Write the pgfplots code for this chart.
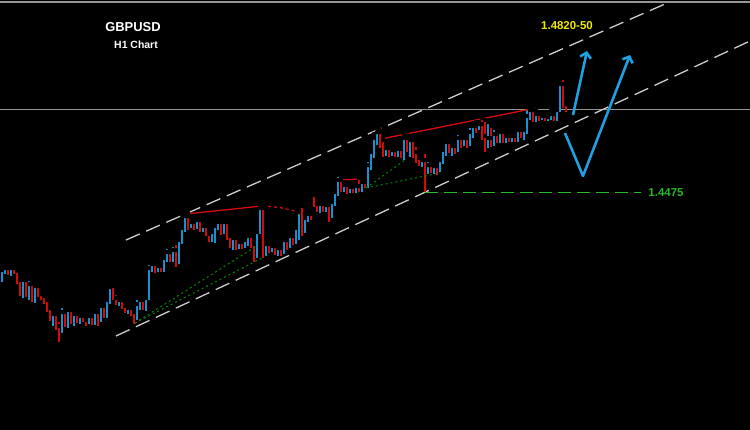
\documentclass[border=0pt]{standalone}
\usepackage{fontspec}
\setmainfont{Liberation Sans}
\usepackage{pgfplots}
\pgfplotsset{compat=1.18}
\usepackage{pgfplotstable}
\usetikzlibrary{arrows.meta}

\definecolor{cblue}{RGB}{25,145,210}
\definecolor{cred}{RGB}{215,10,10}
\definecolor{cchan}{RGB}{205,205,205}
\definecolor{cgrid}{RGB}{150,150,150}
\definecolor{cgreen}{RGB}{0,135,0}
\definecolor{clevel}{RGB}{40,185,40}
\definecolor{carrow}{RGB}{30,160,225}
\definecolor{cyell}{RGB}{240,235,0}

% candles in pixel units: x, body top, body bottom, high, low
\pgfplotstableread{
x t b h l
2 270 278 266 282
5 268 270 265 274
11 268 272 266 276
23 280 290 277 298
29 284 292 279 300
35 286 296 283 303
53 314 318 310 326
62 312 330 306 333
68 310 322 306 328
74 314 318 311 326
80 316 320 313 324
89 316 322 313 324
95 312 322 309 325
101 306 320 302 322
107 300 314 296 318
110 287 300 285 304
119 300 302 296 306
128 308 310 305 314
137 304 316 298 320
140 300 304 297 310
146 298 306 295 311
149 268 298 263 300
152 264 268 261 272
158 266 270 263 272
164 258 270 255 272
167 252 258 247 262
173 250 258 245 262
179 240 262 236 264
182 228 240 224 244
185 216 228 213 232
191 222 226 218 228
197 220 226 217 229
203 226 228 223 232
212 232 238 228 242
215 226 232 223 243
218 222 226 218 230
224 222 230 219 234
233 238 244 235 250
239 242 246 239 249
245 240 246 238 248
248 236 240 233 246
257 232 256 228 258
260 208 232 205 234
266 244 254 240 256
272 246 250 243 252
278 248 252 245 256
284 240 252 236 254
290 236 246 233 248
296 228 240 225 244
299 212 228 210 240
305 218 230 214 233
308 214 218 212 222
320 204 208 201 213
326 205 208 203 212
332 202 216 199 218
335 192 202 188 206
338 180 192 175 196
344 185 188 182 192
350 187 190 184 193
356 186 190 183 193
362 182 190 178 192
368 165 185 160 188
371 152 165 150 170
374 138 152 134 158
377 132 138 128 145
386 148 150 145 156
392 150 153 147 156
398 149 154 147 157
404 138 150 134 160
410 140 148 136 157
422 160 162 156 167
428 165 172 160 174
434 166 170 163 174
440 160 170 157 172
443 150 160 147 164
446 142 150 138 156
452 146 150 144 156
458 138 150 133 152
464 138 142 136 146
470 132 144 126 146
473 126 132 123 138
479 124 128 122 130
488 138 146 122 148
494 134 144 128 146
500 132 140 128 143
506 136 140 134 143
512 136 140 134 142
518 130 140 127 142
524 130 134 128 140
527 116 130 107 134
530 110 116 107 120
536 114 118 110 122
542 116 118 113 120
548 117 119 114 121
551 114 117 110 120
557 110 118 106 121
560 84 110 80 112
}\bull

\pgfplotstableread{
x t b h l
8 268 272 266 275
14 268 271 265 274
17 271 280 268 284
20 280 290 276 296
26 280 292 277 297
32 284 296 281 302
38 286 294 284 297
41 294 296 291 300
44 296 300 294 304
47 300 308 298 312
50 308 318 304 321
56 314 326 312 330
59 326 330 320 342
65 312 322 308 327
71 310 318 308 324
77 314 320 312 323
83 316 320 314 322
86 320 322 317 326
92 316 322 313 325
98 312 320 310 326
104 306 314 303 318
113 286 298 283 300
116 298 302 293 305
122 300 306 299 309
125 306 310 302 313
131 308 312 306 316
134 312 316 310 324
143 300 306 297 310
155 264 270 262 273
161 266 270 263 272
170 252 258 248 262
176 250 262 243 267
188 216 226 213 230
194 222 226 219 230
200 220 228 218 232
206 226 234 224 236
209 234 238 230 242
221 222 230 219 235
227 222 236 220 240
230 236 244 232 248
236 238 246 236 250
242 242 246 239 249
251 236 244 234 248
254 244 258 240 262
263 208 254 206 258
269 244 250 241 253
275 246 252 244 255
281 248 252 246 256
287 240 246 237 250
293 236 240 232 245
302 206 230 202 236
311 214 216 212 220
314 195 204 193 207
317 204 208 200 212
323 204 208 202 212
329 205 216 203 222
341 180 188 178 192
347 185 190 183 194
353 187 190 185 193
359 186 190 178 192
365 182 185 180 188
380 132 140 130 148
383 140 150 138 157
389 148 153 146 157
395 150 154 148 157
401 149 150 146 158
407 138 148 135 152
413 140 152 138 158
416 152 158 145 163
419 158 162 155 166
425 160 172 152 192
431 165 170 161 173
437 166 170 163 175
449 142 150 140 153
455 146 150 143 154
461 138 142 135 148
467 138 144 136 148
476 126 128 122 133
482 124 136 118 140
485 136 146 120 152
491 138 144 126 147
497 134 140 130 143
503 132 140 131 143
509 136 140 134 142
515 136 140 134 142
521 130 134 128 138
533 110 118 108 122
539 114 118 112 121
545 116 119 113 121
554 114 118 111 121
563 84 104 78 108
566 104 110 102 112
}\bear

\begin{document}
\begin{tikzpicture}
\fill[black] (0,0) rectangle (750bp,430bp);
\begin{axis}[
    at={(0,0)}, anchor=south west,
    width=750bp, height=430bp, scale only axis,
    xmin=0, xmax=750, ymin=0, ymax=430,
    y dir=reverse,
    hide axis,
]

% grey price lines
\addplot[cgrid, line width=1.4bp, mark=none] coordinates {(0,2)(750,2)};
\addplot[cgrid, line width=1bp, mark=none] coordinates {(0,109)(750,109)};

% channel
\addplot[cchan, line width=1.3bp, mark=none, dash pattern=on 15bp off 7bp] coordinates {(126,240)(665,4)};
\addplot[cchan, line width=1.3bp, mark=none, dash pattern=on 15bp off 7bp] coordinates {(116,336)(750,41)};

% support level
\addplot[clevel, line width=1.4bp, mark=none, dash pattern=on 13bp off 6bp] coordinates {(425,192.5)(641,192.5)};

% candle wicks
\addplot[only marks, mark=none, error bars/.cd, y dir=plus, y explicit, error mark=none,
    error bar style={draw=cblue, line width=1.1bp}]
    table[x=x, y=h, y error plus expr=\thisrow{l}-\thisrow{h}] {\bull};
\addplot[only marks, mark=none, error bars/.cd, y dir=plus, y explicit, error mark=none,
    error bar style={draw=cred, line width=1.1bp}]
    table[x=x, y=h, y error plus expr=\thisrow{l}-\thisrow{h}] {\bear};
% candle bodies
\addplot[only marks, mark=none, error bars/.cd, y dir=plus, y explicit, error mark=none,
    error bar style={draw=cblue, line width=2.6bp}]
    table[x=x, y=t, y error plus expr=\thisrow{b}-\thisrow{t}] {\bull};
\addplot[only marks, mark=none, error bars/.cd, y dir=plus, y explicit, error mark=none,
    error bar style={draw=cred, line width=2.6bp}]
    table[x=x, y=t, y error plus expr=\thisrow{b}-\thisrow{t}] {\bear};

% resistance lines
\addplot[cred, line width=1.3bp, mark=none] coordinates {(186,214)(262,206)};
\addplot[cred, line width=1.3bp, mark=none, dash pattern=on 3bp off 3bp] coordinates {(262,206)(280,207.5)(293,210.5)(302,215)};
\addplot[cred, line width=1.3bp, mark=none] coordinates {(341,180)(360,179)};
\addplot[cred, line width=1.3bp, mark=none] coordinates {(381,139)(536,108)};

% green trend lines
\addplot[cgreen, line width=1bp, mark=none, dash pattern=on 2bp off 3bp] coordinates {(135,323)(255,247)};
\addplot[cgreen, line width=1bp, mark=none, dash pattern=on 2bp off 3bp] coordinates {(135,323)(262,258)};
\addplot[cgreen, line width=1bp, mark=none, dash pattern=on 2bp off 3bp] coordinates {(366,188)(405,160)};
\addplot[cgreen, line width=1bp, mark=none, dash pattern=on 2bp off 3bp] coordinates {(366,188)(440,173)};

% projected path
\addplot[carrow, line width=2.6bp, mark=none, line join=round, -{Straight Barb[length=5bp, width=11bp]}] coordinates {(573,115)(587,51)};
\addplot[carrow, line width=2.6bp, mark=none, line join=round, -{Straight Barb[length=5bp, width=11bp]}] coordinates {(565,133)(583,176)(630,55)};

\node[text=white, font=\bfseries\fontsize{13}{15}\selectfont] at (axis cs:133,27) {GBPUSD};
\node[text=white, font=\bfseries\fontsize{10.5}{12}\selectfont] at (axis cs:136,45) {H1 Chart};
\node[text=cyell, font=\bfseries\fontsize{11.5}{13}\selectfont] at (axis cs:567,25.5) {1.4820-50};
\node[text=clevel, font=\bfseries\fontsize{11.5}{13}\selectfont] at (axis cs:666,192.5) {1.4475};
\end{axis}
\pgfresetboundingbox
\path (0,0) rectangle (750bp,430bp);
\end{tikzpicture}
\end{document}
